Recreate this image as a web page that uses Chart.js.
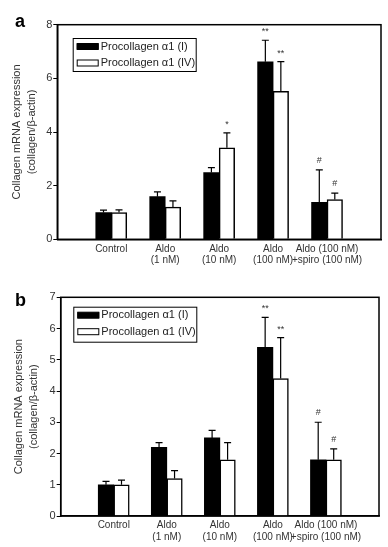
<!DOCTYPE html>
<html><head><meta charset="utf-8">
<script src="https://cdn.jsdelivr.net/npm/chart.js@4.4.0/dist/chart.umd.min.js"></script>
<style>
html,body{margin:0;padding:0;background:#fff;width:388px;height:547px;overflow:hidden}
canvas{position:absolute;left:0}
#ca{top:0}#cb{top:270px}
</style></head>
<body>
<canvas id="ca" width="388" height="270"></canvas>
<canvas id="cb" width="388" height="277"></canvas>
<script>
// ---- data ----
const categories = ['Control', ['Aldo', '(1 nM)'], ['Aldo', '(10 nM)'], ['Aldo', '(100 nM)'], ['Aldo (100 nM)', '+spiro (100 nM)']];
const seriesNames = ['Procollagen \u03b11 (I)', 'Procollagen \u03b11 (IV)'];

const aTypeI   = [1.0, 1.59, 2.49, 6.62, 1.38];
const aTypeIErr = [0.09, 0.18, 0.18, 0.80, 1.21];
const aTypeIV  = [1.0, 1.20, 3.41, 5.52, 1.48];
const aTypeIVErr = [0.10, 0.23, 0.56, 1.10, 0.24];
const aMarksI  = ['', '', '', '**', '#'];
const aMarksIV = ['', '', '*', '**', '#'];
const aTicks = [0, 2, 4, 6, 8];

const bTypeI   = [1.0, 2.2, 2.5, 5.4, 1.8];
const bTypeIErr = [0.11, 0.15, 0.24, 0.96, 1.20];
const bTypeIV  = [1.0, 1.2, 1.8, 4.4, 1.8];
const bTypeIVErr = [0.15, 0.25, 0.55, 1.31, 0.35];
const bMarksI  = ['', '', '', '**', '#'];
const bMarksIV = ['', '', '', '**', '#'];
const bTicks = [0, 1, 2, 3, 4, 5, 6, 7];

const yTitle = ['Collagen mRNA expression', '(collagen/\u03b2-actin)'];

// ---- helpers ----
const FONT = "'Liberation Sans', Arial, Helvetica, sans-serif";
const pad = arr => [null, ...arr, null];
const labels = ['', ...categories, ''];

const extras = {
  id: 'extras',
  afterDatasetsDraw(chart, args, o) {
    const ctx = chart.ctx, ys = chart.scales.y, ca = chart.chartArea;
    ctx.save();
    // frame
    ctx.strokeStyle = '#000'; ctx.lineWidth = 1.5;
    ctx.strokeRect(ca.left, ca.top, ca.right - ca.left, ca.bottom - ca.top);
    // error bars + marks
    chart.data.datasets.forEach((ds, di) => {
      const meta = chart.getDatasetMeta(di);
      ds.data.forEach((v, i) => {
        if (v === null) return;
        const el = meta.data[i];
        const x = el.x;
        const top = ys.getPixelForValue(v);
        const et = ys.getPixelForValue(v + ds.errs[i]);
        ctx.strokeStyle = '#000'; ctx.lineWidth = 1.2;
        ctx.beginPath();
        ctx.moveTo(x, top); ctx.lineTo(x, et);
        ctx.moveTo(x - 3.5, et); ctx.lineTo(x + 3.5, et);
        ctx.stroke();
        const m = ds.marks[i];
        if (m) {
          ctx.font = '9px ' + FONT;
          ctx.fillStyle = '#333';
          ctx.textAlign = 'center';
          ctx.textBaseline = 'alphabetic';
          const mt = ctx.measureText(m);
          const cy = et - 10;
          ctx.fillText(m, x, cy + (mt.actualBoundingBoxAscent - mt.actualBoundingBoxDescent) / 2);
        }
      });
    });
    // legend
    const lx = o.legendX, ly = o.legendY, lw = o.legendW, lh = o.legendH;
    ctx.fillStyle = '#fff';
    ctx.fillRect(lx, ly, lw, lh);
    ctx.strokeStyle = '#000'; ctx.lineWidth = 1;
    ctx.strokeRect(lx + 0.5, ly + 0.5, lw, lh);
    ctx.font = '11px ' + FONT;
    ctx.textAlign = 'left'; ctx.textBaseline = 'middle';
    chart.data.datasets.forEach((ds, di) => {
      const cy = ly + 8.5 + di * 16.5;
      ctx.fillStyle = ds.backgroundColor;
      ctx.fillRect(lx + 4, cy - 3, 22, 6);
      ctx.strokeStyle = '#000'; ctx.lineWidth = 1;
      ctx.strokeRect(lx + 4.5, cy - 3, 21, 6);
      ctx.fillStyle = '#222';
      ctx.fillText(ds.label, lx + 28, cy);
    });
    // panel letter
    ctx.font = 'bold 18px ' + FONT;
    ctx.fillStyle = '#000';
    ctx.textAlign = 'left'; ctx.textBaseline = 'alphabetic';
    ctx.fillText(o.letter, 15, o.letterY);
    ctx.restore();
  }
};

function makeChart(id, s1, e1, m1, s2, e2, m2, ticks, geom) {
  return new Chart(document.getElementById(id), {
    type: 'bar',
    data: {
      labels: labels,
      datasets: [
        { label: seriesNames[0], data: pad(s1), errs: pad(e1), marks: pad(m1),
          backgroundColor: '#000', borderColor: '#000', borderWidth: 0 },
        { label: seriesNames[1], data: pad(s2), errs: pad(e2), marks: pad(m2),
          backgroundColor: '#fff', borderColor: '#000', borderWidth: 1.5 }
      ]
    },
    options: {
      responsive: false, animation: false, devicePixelRatio: 1,
      barThickness: 15.5,
      layout: { padding: { left: 0, top: geom.top, right: geom.right, bottom: 0 } },
      plugins: { legend: { display: false }, tooltip: { enabled: false },
        extras: { legendX: geom.lx, legendY: geom.ly, legendW: 123, legendH: geom.lh, letter: geom.letter, letterY: geom.letterY } },
      scales: {
        x: {
          offset: false,
          grid: { display: false, drawTicks: false },
          border: { display: true, color: '#000', width: 1.5 },
          ticks: { color: '#333', font: { family: FONT, size: 10, lineHeight: 1.12 }, padding: 4, maxRotation: 0, autoSkip: false },
          afterFit: s => { s.height = geom.xh; }
        },
        y: {
          min: 0, max: ticks[ticks.length - 1],
          afterBuildTicks: s => { s.ticks = ticks.map(v => ({ value: v })); },
          grid: { display: true, drawOnChartArea: false, drawTicks: true, tickLength: 4, color: '#000', lineWidth: 1 },
          border: { display: true, color: '#000', width: 1.5 },
          ticks: { color: '#333', font: { family: FONT, size: 11 }, padding: 1 },
          title: { display: true, text: yTitle, color: '#333', font: { family: FONT, size: 11, lineHeight: 1.4 }, padding: { top: geom.tpad, bottom: 0 } },
          afterFit: s => { s.width = geom.yw; }
        }
      }
    },
    plugins: [extras]
  });
}

makeChart('ca', aTypeI, aTypeIErr, aMarksI, aTypeIV, aTypeIVErr, aMarksIV, aTicks,
  { top: 24.7, right: 7, xh: 30.7, yw: 57.3, lx: 72.7, ly: 38, lh: 33, letter: 'a', letterY: 27.3, tpad: 9 });
makeChart('cb', bTypeI, bTypeIErr, bMarksI, bTypeIV, bTypeIVErr, bMarksIV, bTicks,
  { top: 27.3, right: 9, xh: 31, yw: 60.7, lx: 73.3, ly: 36.7, lh: 35, letter: 'b', letterY: 35.5, tpad: 11 });
</script>
</body></html>
